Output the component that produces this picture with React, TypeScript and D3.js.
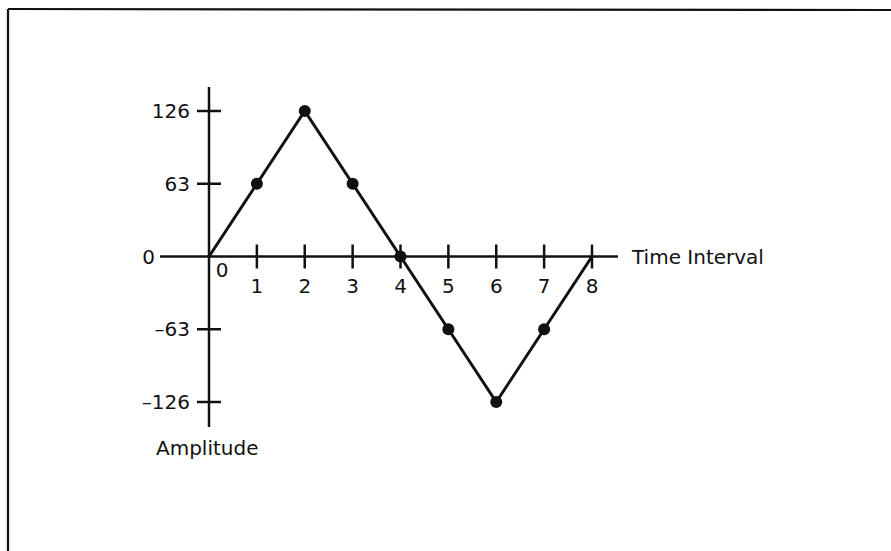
import React from "react";
import * as d3 from "d3";

const timeSteps = [0, 1, 2, 3, 4, 5, 6, 7, 8];
const amplitudes = [0, 63, 126, 63, 0, -63, -126, -63, 0];
const markedSteps = [1, 2, 3, 4, 5, 6, 7];
const yTickValues = [126, 63, 0, -63, -126];
const yTickLabels = ["126", "63", "0", "–63", "–126"];
const xTickValues = [1, 2, 3, 4, 5, 6, 7, 8];
const xTickLabels = ["1", "2", "3", "4", "5", "6", "7", "8"];

const W = 891;
const H = 551;
const FONT = "'DejaVu Sans', sans-serif";
const FS = 20;

export default function App() {
  const x = d3.scaleLinear().domain([0, 8]).range([209, 592]);
  const y = d3.scaleLinear().domain([-126, 126]).range([402, 111]);
  const pts = timeSteps.map((t, i) => [t, amplitudes[i]] as [number, number]);
  const line = d3
    .line<[number, number]>()
    .x((d) => x(d[0]))
    .y((d) => y(d[1]));
  const x0 = x(0);
  const y0 = y(0);
  return (
    <svg
      width={W}
      height={H}
      style={{ position: "absolute", left: 0, top: 0, background: "#fff" }}
      fontFamily={FONT}
    >
      <rect x={0} y={0} width={W} height={H} fill="#fff" />
      {/* frame */}
      <line x1={8} y1={9} x2={W + 2} y2={10} stroke="#111" strokeWidth={2.2} />
      <line x1={8} y1={9} x2={8} y2={H + 2} stroke="#111" strokeWidth={2.2} />
      {/* axes */}
      <line x1={160} y1={y0} x2={618} y2={y0} stroke="#111" strokeWidth={2.5} />
      <line x1={x0} y1={87} x2={x0} y2={427} stroke="#111" strokeWidth={2.5} />
      {/* y ticks */}
      {yTickValues.map((v, i) =>
        v === 0 ? (
          <text key={i} x={155} y={y(v) + 7} textAnchor="end" fontSize={FS} fill="#111">
            {yTickLabels[i]}
          </text>
        ) : (
          <g key={i}>
            <line x1={x0 - 12} x2={x0 + 12} y1={y(v)} y2={y(v)} stroke="#111" strokeWidth={2.5} />
            <text x={190} y={y(v) + 7} textAnchor="end" fontSize={FS} fill="#111">
              {yTickLabels[i]}
            </text>
          </g>
        )
      )}
      {/* x ticks */}
      {xTickValues.map((v, i) => (
        <g key={i}>
          <line x1={x(v)} x2={x(v)} y1={y0 - 12} y2={y0 + 12} stroke="#111" strokeWidth={2.5} />
          <text x={x(v)} y={293} textAnchor="middle" fontSize={FS} fill="#111">
            {xTickLabels[i]}
          </text>
        </g>
      ))}
      <text x={x0 + 13} y={277} textAnchor="middle" fontSize={FS} fill="#111">
        0
      </text>
      {/* series */}
      <path d={line(pts) || ""} fill="none" stroke="#111" strokeWidth={3} strokeLinejoin="miter" />
      {markedSteps.map((t) => (
        <circle key={t} cx={x(t)} cy={y(amplitudes[t])} r={6} fill="#111" />
      ))}
      {/* axis titles */}
      <text x={632} y={264} fontSize={FS} fill="#111">
        Time Interval
      </text>
      <text x={156} y={455} fontSize={FS} fill="#111">
        Amplitude
      </text>
    </svg>
  );
}
